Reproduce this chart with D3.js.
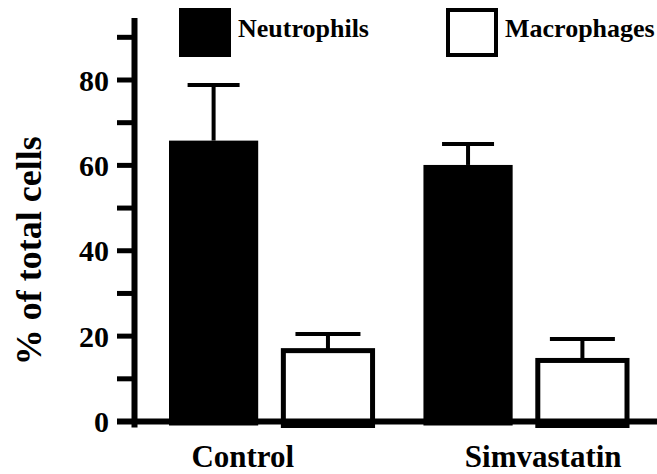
<!DOCTYPE html>
<html>
<head>
<meta charset="utf-8">
<script src="https://cdn.jsdelivr.net/npm/d3@7"></script>
</head>
<body style="margin:0">
<div id="chart"></div>
<script>
// data
const groups = ["Control", "Simvastatin"];
const series = ["Neutrophils", "Macrophages"];
const neutrophils = [65.8, 60.1];
const neutrophilsErr = [13.0, 4.9];
const macrophages = [16.6, 14.3];
const macrophagesErr = [3.9, 5.0];
const majorTicks = [0, 20, 40, 60, 80];
const minorTicks = [10, 30, 50, 70, 90];

const width = 657, height = 474;
const FONT = "'Liberation Serif', 'Times New Roman', Times, serif";

const rows = [];
groups.forEach((g, i) => {
    rows.push({ group: g, series: "Neutrophils", value: neutrophils[i], err: neutrophilsErr[i] });
    rows.push({ group: g, series: "Macrophages", value: macrophages[i], err: macrophagesErr[i] });
});

const svg = d3.select("#chart").append("svg")
    .attr("width", width)
    .attr("height", height);

const y = d3.scaleLinear().domain([0, 80]).range([421.5, 80]);

const x0 = d3.scaleBand().domain(groups).range([169, 627]).paddingInner(0.2).paddingOuter(0);
const x1 = d3.scaleBand().domain(series).range([0, x0.bandwidth()]).paddingInner(0.22).paddingOuter(0);

const fill = { Neutrophils: "#000", Macrophages: "#fff" };
const capWidth = { Neutrophils: 52, Macrophages: 65 };

// bars
const bar = svg.append("g").selectAll("g")
    .data(rows)
    .join("g")
    .attr("transform", d => `translate(${x0(d.group) + x1(d.series)},0)`);

// error bars (upper only)
bar.append("line")
    .attr("x1", x1.bandwidth() / 2)
    .attr("x2", x1.bandwidth() / 2)
    .attr("y1", d => y(d.value))
    .attr("y2", d => y(d.value + d.err))
    .attr("stroke", "#000")
    .attr("stroke-width", 4);
bar.append("line")
    .attr("x1", d => x1.bandwidth() / 2 - capWidth[d.series] / 2)
    .attr("x2", d => x1.bandwidth() / 2 + capWidth[d.series] / 2)
    .attr("y1", d => y(d.value + d.err))
    .attr("y2", d => y(d.value + d.err))
    .attr("stroke", "#000")
    .attr("stroke-width", 4);

bar.append("rect")
    .attr("x", 0)
    .attr("width", x1.bandwidth())
    .attr("y", d => y(d.value))
    .attr("height", d => y(0) + 4 - y(d.value))
    .attr("fill", d => fill[d.series])
    .attr("stroke", d => d.series === "Macrophages" ? "#000" : "none")
    .attr("stroke-width", 5);

// y axis
const yAxis = svg.append("g");
yAxis.append("line")
    .attr("x1", 134.5).attr("x2", 134.5)
    .attr("y1", y(0) + 6).attr("y2", y(94.5))
    .attr("stroke", "#000").attr("stroke-width", 6);
yAxis.selectAll(".tick")
    .data(majorTicks.concat(minorTicks))
    .join("line")
    .attr("x1", 117).attr("x2", 134)
    .attr("y1", d => y(d)).attr("y2", d => y(d))
    .attr("stroke", "#000").attr("stroke-width", 5);

// all text goes in one group so the font is set once
const labels = svg.append("g")
    .style("font-family", FONT)
    .style("font-weight", "bold");

labels.selectAll(".ytick")
    .data(majorTicks)
    .join("text")
    .attr("class", "ytick")
    .attr("x", 109)
    .attr("y", d => y(d))
    .attr("dy", "0.35em")
    .attr("text-anchor", "end")
    .style("font-size", "30px")
    .text(d => d);

// y title
labels.append("text")
    .attr("transform", `translate(41,${(y(0) + y(80)) / 2}) rotate(-90)`)
    .attr("text-anchor", "middle")
    .style("font-size", "36px")
    .text("% of total cells");

// group labels
const labelShift = { Control: -28, Simvastatin: 18 };
labels.selectAll(".glabel")
    .data(groups)
    .join("text")
    .attr("class", "glabel")
    .attr("x", d => x0(d) + x0.bandwidth() / 2 + labelShift[d])
    .attr("y", 467)
    .attr("text-anchor", "middle")
    .style("font-size", "31px")
    .text(d => d);

// x axis line
svg.append("line")
    .attr("x1", 117).attr("x2", width)
    .attr("y1", y(0)).attr("y2", y(0))
    .attr("stroke", "#000").attr("stroke-width", 6);

// legend
const legendX = { Neutrophils: 181, Macrophages: 448 };
const legend = svg.append("g").selectAll("g")
    .data(series)
    .join("g")
    .attr("transform", d => `translate(${legendX[d]},10)`);
legend.append("rect")
    .attr("width", 48).attr("height", 45)
    .attr("fill", d => fill[d])
    .attr("stroke", "#000")
    .attr("stroke-width", 4);
legend.append("text")
    .attr("x", 57)
    .attr("y", 27)
    .style("font-family", FONT)
    .style("font-weight", "bold")
    .style("font-size", "26px")
    .text(d => d);
</script>
</body>
</html>
